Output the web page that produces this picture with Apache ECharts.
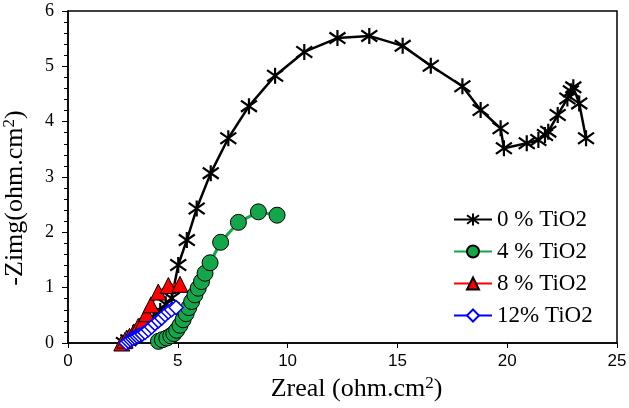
<!DOCTYPE html>
<html><head><meta charset="utf-8">
<script src="https://cdn.jsdelivr.net/npm/echarts@6/dist/echarts.min.js"></script>
<style>html,body{margin:0;padding:0;background:#fff}#c{width:629px;height:408px}</style>
</head><body><div id="c"></div>
<script>
var seriesNames = ['0 % TiO2', '4 % TiO2', '8 % TiO2', '12% TiO2'];
var xTicks = [0, 5, 10, 15, 20, 25];
var yTicks = [0, 1, 2, 3, 4, 5, 6];

var data0 = [[2.55,0.0],[2.75,0.05],[3.0,0.12],[3.3,0.22],[3.6,0.34],[3.9,0.46],[4.2,0.58],[4.45,0.7],[4.72,0.81],[5.02,1.41],[5.41,1.86],[5.86,2.43],[6.5,3.07],[7.3,3.7],[8.24,4.28],[9.43,4.83],[10.76,5.26],[12.27,5.51],[13.72,5.55],[15.24,5.37],[16.52,5.01],[17.96,4.64],[18.79,4.21],[19.7,3.88],[19.85,3.52],[20.89,3.61],[21.42,3.67],[21.72,3.76],[21.87,3.82],[22.3,4.12],[22.74,4.42],[22.9,4.55],[23.01,4.62],[23.28,4.33],[23.59,3.7]];
var data4 = [[4.12,0.03],[4.3,0.06],[4.5,0.09],[4.68,0.13],[4.82,0.17],[4.95,0.23],[5.1,0.32],[5.24,0.42],[5.38,0.53],[5.5,0.64],[5.63,0.75],[5.78,0.87],[5.93,0.99],[6.08,1.11],[6.24,1.26],[6.47,1.45],[6.95,1.82],[7.76,2.18],[8.67,2.37],[9.52,2.31]];
var data8 = [[2.45,0.0],[2.6,0.05],[2.8,0.12],[3.0,0.2],[3.2,0.3],[3.43,0.39],[3.58,0.53],[3.78,0.69],[4.11,0.92],[4.57,1.04],[5.1,1.06]];
var data12 = [[2.65,0.0],[2.75,0.03],[2.85,0.06],[2.95,0.08],[3.05,0.1],[3.15,0.12],[3.25,0.14],[3.38,0.16],[3.51,0.19],[3.66,0.24],[3.81,0.29],[3.96,0.35],[4.12,0.4],[4.27,0.45],[4.42,0.51],[4.57,0.56],[4.72,0.6],[4.92,0.64]];

var asterisk = 'path://M0,-1L0,1M-0.8,-0.7L0.8,0.7M-0.8,0.7L0.8,-0.7';
var serif = '"Liberation Serif", "Times New Roman", serif';
var sans = '"Liberation Sans", Arial, sans-serif';
var nameRich = {
  a: {fontFamily: serif, fontSize: 26, color: '#000'},
  s: {fontFamily: serif, fontSize: 17, color: '#000', padding: [0, 0, 11, 0]}
};

var chart = echarts.init(document.getElementById('c'));
chart.setOption({
  animation: false,
  grid: {left: 68, right: 12, top: 11, bottom: 65, outerBoundsMode: 'none', containLabel: false,
         show: true, borderColor: '#000', borderWidth: 1.5, backgroundColor: 'transparent'},
  legend: {
    orient: 'vertical', left: 448, top: 203, itemWidth: 38, itemHeight: 15, itemGap: 9,
    data: seriesNames,
    textStyle: {fontFamily: serif, fontSize: 23, color: '#000', lineHeight: 23}
  },
  xAxis: {
    type: 'value', min: xTicks[0], max: xTicks[xTicks.length-1], interval: 5,
    name: '{a|Zreal (ohm.cm}{s|2}{a|)}', nameLocation: 'middle', nameGap: 31,
    nameTextStyle: {rich: nameRich, padding: [0, 0, 0, 28]},
    axisLine: {onZero: true, lineStyle: {color: '#000', width: 1.5}},
    axisTick: {show: true, inside: false, length: 5, lineStyle: {color: '#000'}},
    axisLabel: {fontFamily: sans, fontSize: 17, color: '#000', margin: 10},
    splitLine: {show: false}
  },
  yAxis: {
    type: 'value', min: yTicks[0], max: yTicks[yTicks.length-1], interval: 1,
    name: '{a|-Zimg(ohm.cm}{s|2}{a|)}', nameLocation: 'middle', nameGap: 39,
    nameTextStyle: {rich: nameRich, padding: [0, 42, 0, 0]},
    axisLine: {show: true, lineStyle: {color: '#000', width: 1.5}},
    axisTick: {show: true, inside: false, length: 6, lineStyle: {color: '#000'}},
    minorTick: {show: true, splitNumber: 5, length: 4, lineStyle: {color: '#000'}},
    axisLabel: {fontFamily: serif, fontSize: 18, color: '#000', margin: 14},
    splitLine: {show: false}
  },
  series: [
    {name: seriesNames[0], type: 'line', data: data0, symbol: asterisk, symbolSize: 16,
     lineStyle: {color: '#000', width: 2.5},
     itemStyle: {color: '#000', borderColor: '#000', borderWidth: 2.2}},
    {name: seriesNames[1], type: 'line', data: data4, symbol: 'circle', symbolSize: 16,
     lineStyle: {color: '#14a64a', width: 3},
     itemStyle: {color: '#14a64a', borderColor: '#000', borderWidth: 1}},
    {name: seriesNames[2], type: 'line', data: data8, symbol: 'triangle', symbolSize: 16,
     lineStyle: {color: '#ff0000', width: 2.5},
     itemStyle: {color: '#ff0000', borderColor: '#000', borderWidth: 1}},
    {name: seriesNames[3], type: 'line', data: data12, symbol: 'diamond', symbolSize: 14,
     lineStyle: {color: '#0000ff', width: 2.5},
     itemStyle: {color: '#ffffff', borderColor: '#0000ff', borderWidth: 1.5}}
  ]
});
</script></body></html>
